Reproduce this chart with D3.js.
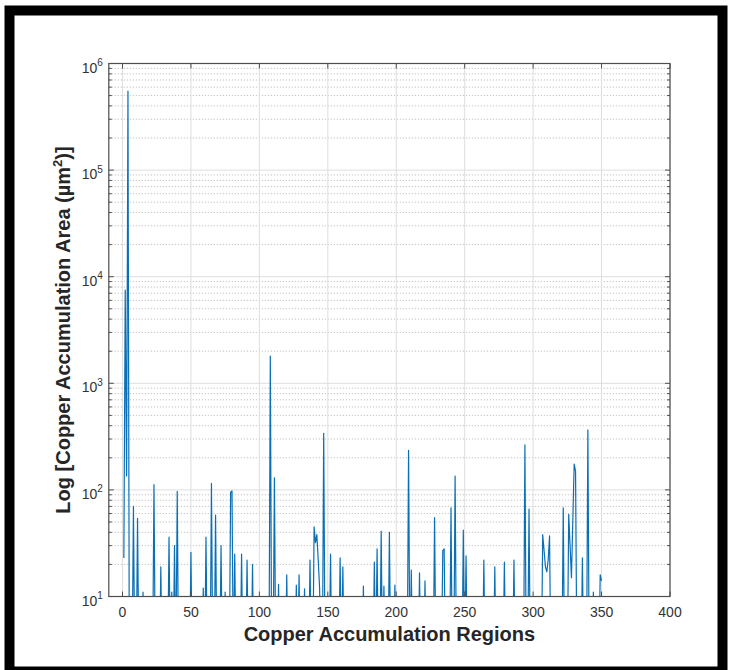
<!DOCTYPE html>
<html>
<head>
<meta charset="utf-8">
<script src="https://cdn.jsdelivr.net/npm/d3@7"></script>
<style>
    body { margin: 0; background: #fff; }
    text { font-family: "Liberation Sans", Arial, Helvetica, sans-serif; }
</style>
</head>
<body>
<div id="chart"></div>
<script>
// Region index and copper accumulation area (um^2); values of 2 are below the axis floor
var regions = [1, 2, 3, 4, 5, 7, 8, 9, 10, 11, 12, 14, 15, 16, 22, 23, 24, 27, 28, 29,
    33, 34, 35, 36, 37, 38, 39, 40, 41, 49, 50, 51, 58, 59, 60, 61, 62, 64, 65, 66,
    67, 68, 69, 71, 72, 73, 74, 75, 76, 78, 79, 80, 81, 82, 83, 86, 87, 88, 90, 91,
    92, 94, 95, 96, 107, 108, 109, 110, 111, 112, 113, 114, 115, 119, 120, 121, 126, 127, 128, 129,
    130, 132, 133, 134, 136, 137, 138, 139, 140, 141, 142, 143, 144, 145, 146, 147, 148, 151, 152, 153,
    158, 159, 160, 161, 162, 175, 176, 177, 183, 184, 185, 186, 187, 188, 189, 190, 191, 192, 194, 195,
    196, 198, 199, 200, 208, 209, 210, 211, 212, 216, 217, 218, 220, 221, 222, 227, 228, 229, 233, 234,
    235, 236, 239, 240, 241, 242, 243, 244, 248, 249, 250, 251, 252, 263, 264, 265, 271, 272, 273, 278,
    279, 280, 285, 286, 287, 293, 294, 295, 296, 297, 298, 306, 307, 308, 309, 310, 311, 312, 313, 321,
    322, 323, 325, 326, 327, 328, 329, 330, 331, 332, 335, 336, 337, 339, 340, 341, 343, 344, 345, 348,
    349, 350];

var areas = [23, 7500, 135, 550000, 2, 2, 70, 2, 2, 54, 2, 2, 11, 2, 2, 112, 2, 2, 19, 2,
    2, 36, 2, 11, 2, 30, 2, 97, 2, 2, 26, 2, 2, 12, 2, 36, 2, 2, 115, 2,
    2, 58, 2, 2, 30, 2, 2, 11, 2, 2, 95, 98, 2, 25, 2, 2, 25, 2, 2, 22,
    2, 2, 20, 2, 2, 1800, 2, 2, 130, 2, 2, 13, 2, 2, 16, 2, 2, 12.8, 2, 16,
    2, 2, 11.8, 2, 2, 22, 2, 2, 45, 32, 38, 22, 12, 2, 2, 340, 2, 2, 25, 2,
    2, 23, 2, 19, 2, 2, 12.5, 2, 2, 21, 2, 28, 2, 2, 41, 2, 12.5, 2, 2, 40,
    2, 2, 12.8, 2, 2, 235, 2, 17.7, 2, 2, 16.7, 2, 2, 14, 2, 2, 55, 2, 2, 27,
    28, 2, 2, 68, 2, 2, 135, 2, 2, 42, 2, 24, 2, 2, 22, 2, 2, 19, 2, 2,
    21, 2, 2, 22, 2, 2, 265, 2, 2, 66, 2, 2, 38, 27, 19, 17, 22, 37, 2, 2,
    68, 2, 2, 59, 30, 15, 52, 175, 150, 2, 2, 23, 2, 2, 365, 2, 2, 11, 2, 2,
    16, 14];

var xTicks = [0, 50, 100, 150, 200, 250, 300, 350, 400];
var yExponents = [1, 2, 3, 4, 5, 6];

// Setting chart parameters
var properties = {
    width: 736,
    height: 670,
    plot: { left: 108.8, right: 670, top: 63.5, bottom: 596.5 }
};

var svg = d3.select("#chart")
    .append("svg")
    .attr("width", properties.width)
    .attr("height", properties.height);

// Black picture frame
svg.append("rect")
    .attr("x", 9.5).attr("y", 10.5)
    .attr("width", 713).attr("height", 661)
    .attr("fill", "none")
    .attr("stroke", "#000")
    .attr("stroke-width", 10);

var x = d3.scaleLinear()
    .domain([-10, 400])
    .range([properties.plot.left, properties.plot.right]);

var y = d3.scaleLog()
    .domain([10, 1e6])
    .range([properties.plot.bottom, properties.plot.top]);

var p = properties.plot;

// Minor (dotted) and major grid lines
var minorValues = [];
yExponents.slice(0, -1).forEach(function (e) {
    d3.range(2, 10).forEach(function (m) { minorValues.push(m * Math.pow(10, e)); });
});

svg.append("g").selectAll("line")
    .data(minorValues)
    .enter().append("line")
    .attr("x1", p.left).attr("x2", p.right)
    .attr("y1", function (d) { return y(d); })
    .attr("y2", function (d) { return y(d); })
    .attr("stroke", "#b4b4b4")
    .attr("stroke-width", 1)
    .attr("stroke-dasharray", "1,2");

svg.append("g").selectAll("line")
    .data(yExponents)
    .enter().append("line")
    .attr("x1", p.left).attr("x2", p.right)
    .attr("y1", function (d) { return y(Math.pow(10, d)); })
    .attr("y2", function (d) { return y(Math.pow(10, d)); })
    .attr("stroke", "#dedede")
    .attr("stroke-width", 1);

svg.append("g").selectAll("line")
    .data(xTicks)
    .enter().append("line")
    .attr("x1", function (d) { return x(d); })
    .attr("x2", function (d) { return x(d); })
    .attr("y1", p.top).attr("y2", p.bottom)
    .attr("stroke", "#dedede")
    .attr("stroke-width", 1);

// Data line, clipped to the axes box
svg.append("clipPath").attr("id", "plotClip")
    .append("rect")
    .attr("x", p.left).attr("y", p.top)
    .attr("width", p.right - p.left).attr("height", p.bottom - p.top);

var line = d3.line()
    .x(function (d, i) { return x(regions[i]); })
    .y(function (d) { return y(d); });

svg.append("path")
    .datum(areas)
    .attr("clip-path", "url(#plotClip)")
    .attr("d", line)
    .attr("fill", "none")
    .attr("stroke", "#0a6fb5")
    .attr("stroke-width", 1.2)
    .attr("stroke-linejoin", "round");

// Axes box
svg.append("rect")
    .attr("x", p.left).attr("y", p.top)
    .attr("width", p.right - p.left).attr("height", p.bottom - p.top)
    .attr("fill", "none")
    .attr("stroke", "#4d4d4d")
    .attr("stroke-width", 1.2);

// Ticks pointing inward
var tickColor = "#4d4d4d";
var ticks = svg.append("g").attr("stroke", tickColor).attr("stroke-width", 1);

xTicks.forEach(function (t) {
    ticks.append("line").attr("x1", x(t)).attr("x2", x(t)).attr("y1", p.bottom).attr("y2", p.bottom - 5);
    ticks.append("line").attr("x1", x(t)).attr("x2", x(t)).attr("y1", p.top).attr("y2", p.top + 5);
});
yExponents.forEach(function (e) {
    var yy = y(Math.pow(10, e));
    ticks.append("line").attr("x1", p.left).attr("x2", p.left + 5).attr("y1", yy).attr("y2", yy);
    ticks.append("line").attr("x1", p.right).attr("x2", p.right - 5).attr("y1", yy).attr("y2", yy);
});
minorValues.forEach(function (v) {
    var yy = y(v);
    ticks.append("line").attr("x1", p.left).attr("x2", p.left + 3).attr("y1", yy).attr("y2", yy);
    ticks.append("line").attr("x1", p.right).attr("x2", p.right - 3).attr("y1", yy).attr("y2", yy);
});

// Tick labels
svg.append("g").selectAll("text")
    .data(xTicks)
    .enter().append("text")
    .attr("x", function (d) { return x(d); })
    .attr("y", p.bottom + 20.5)
    .attr("text-anchor", "middle")
    .attr("font-size", 14)
    .attr("fill", "#333")
    .text(function (d) { return d; });

var yLabels = svg.append("g").selectAll("text")
    .data(yExponents)
    .enter().append("text")
    .attr("x", p.left - 6)
    .attr("y", function (d) { return y(Math.pow(10, d)) + 9; })
    .attr("text-anchor", "end")
    .attr("font-size", 14)
    .attr("fill", "#333");
yLabels.append("tspan").text("10");
yLabels.append("tspan")
    .attr("font-size", 10)
    .attr("dy", -6.5)
    .text(function (d) { return d; });

// Axis titles
svg.append("text")
    .attr("x", (p.left + p.right) / 2)
    .attr("y", 641)
    .attr("text-anchor", "middle")
    .attr("font-size", 20)
    .attr("font-weight", "bold")
    .attr("fill", "#262626")
    .text("Copper Accumulation Regions");

var yTitle = svg.append("text")
    .attr("transform", "translate(70," + ((p.top + p.bottom) / 2) + ") rotate(-90)")
    .attr("text-anchor", "middle")
    .attr("font-size", 20)
    .attr("font-weight", "bold")
    .attr("fill", "#262626");
yTitle.append("tspan").text("Log [Copper Accumulation Area (µm");
yTitle.append("tspan").attr("font-size", 13).attr("dy", -8).text("2");
yTitle.append("tspan").attr("dy", 8).text(")]");
</script>
</body>
</html>
